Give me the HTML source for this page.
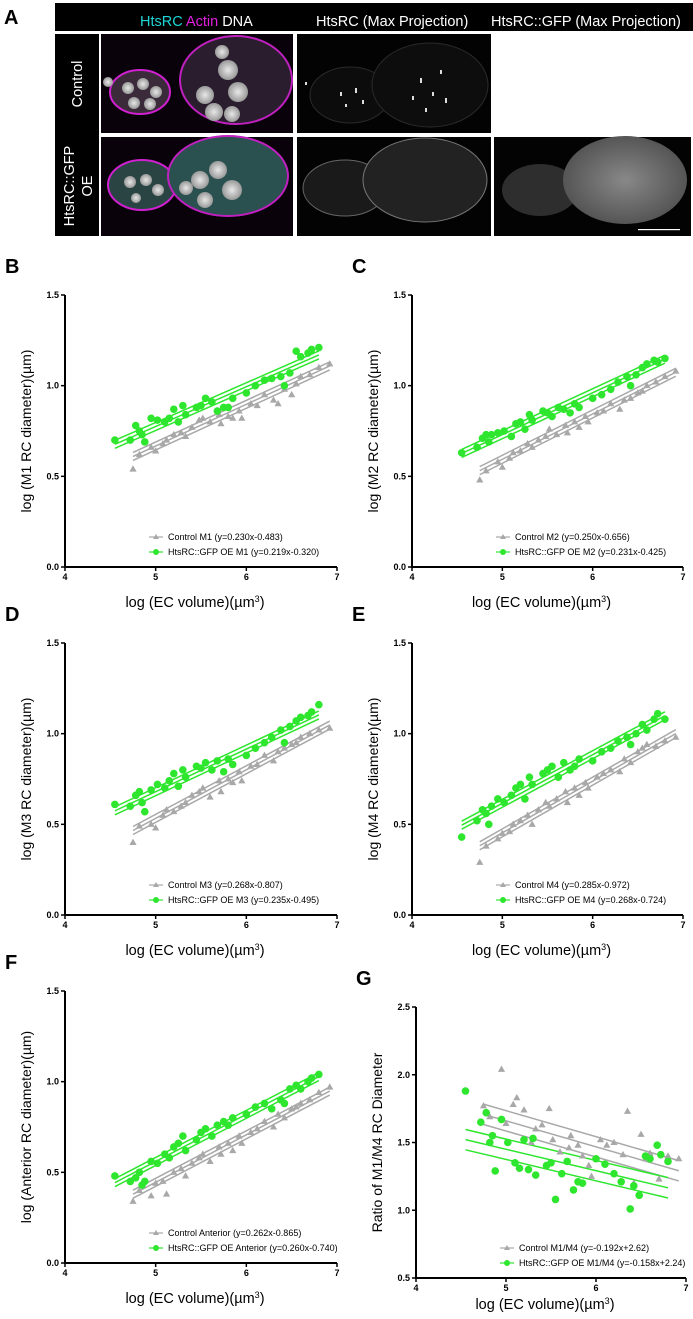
<!DOCTYPE html>
<html><head><meta charset="utf-8"><style>
body{margin:0;background:#fff;}
svg{display:block;font-family:"Liberation Sans",sans-serif;}
</style></head><body>
<svg id="fig" width="693" height="1319" viewBox="0 0 693 1319" xmlns="http://www.w3.org/2000/svg">
<defs>
<radialGradient id="nuc"><stop offset="0" stop-color="#e8e8e8"/><stop offset="1" stop-color="#999"/></radialGradient>
<radialGradient id="gfp"><stop offset="0" stop-color="#888"/><stop offset="1" stop-color="#555"/></radialGradient>
</defs>
<g>
<text x="4" y="24" font-size="20" font-weight="bold">A</text>
<rect x="55" y="3" width="638" height="28" fill="#000"/>
<text x="140" y="26" font-size="14.5"><tspan fill="#1fd6d6">HtsRC</tspan><tspan fill="#e020e0"> Actin</tspan><tspan fill="#fff"> DNA</tspan></text>
<text x="316" y="26" font-size="14.5" fill="#fff">HtsRC (Max Projection)</text>
<text x="491" y="26" font-size="14.5" fill="#fff">HtsRC::GFP (Max Projection)</text>
<rect x="55" y="34" width="44" height="202" fill="#000"/>
<text transform="translate(82,84) rotate(-90)" text-anchor="middle" font-size="14.5" fill="#fff">Control</text>
<text transform="translate(74,186) rotate(-90)" text-anchor="middle" font-size="14.5" fill="#fff">HtsRC::GFP</text>
<text transform="translate(92,186) rotate(-90)" text-anchor="middle" font-size="14.5" fill="#fff">OE</text>
<g>
<rect x="101" y="34" width="192" height="99" fill="#0a020a"/>
<ellipse cx="140" cy="92" rx="30" ry="22" fill="#3a2a3a" stroke="#d020d0" stroke-width="2"/>
<ellipse cx="236" cy="80" rx="56" ry="44" fill="#2a1e2e" stroke="#c020c0" stroke-width="2"/>
<circle cx="128" cy="88" r="6" fill="url(#nuc)"/><circle cx="143" cy="84" r="6" fill="url(#nuc)"/><circle cx="156" cy="92" r="6" fill="url(#nuc)"/><circle cx="134" cy="103" r="6" fill="url(#nuc)"/><circle cx="150" cy="104" r="6" fill="url(#nuc)"/>
<circle cx="205" cy="95" r="9" fill="url(#nuc)"/><circle cx="228" cy="70" r="10" fill="url(#nuc)"/><circle cx="238" cy="92" r="10" fill="url(#nuc)"/><circle cx="214" cy="112" r="9" fill="url(#nuc)"/><circle cx="232" cy="114" r="8" fill="url(#nuc)"/><circle cx="222" cy="52" r="7" fill="url(#nuc)"/>
<circle cx="108" cy="82" r="5" fill="url(#nuc)"/>
</g>
<g>
<rect x="297" y="34" width="194" height="99" fill="#030303"/>
<ellipse cx="350" cy="95" rx="40" ry="28" fill="#0c0c0c" stroke="#2a2a2a"/>
<ellipse cx="430" cy="85" rx="58" ry="42" fill="#0d0d0d" stroke="#2a2a2a"/>
<g fill="#ddd"><rect x="340" y="92" width="2" height="4"/><rect x="355" y="88" width="2" height="5"/><rect x="362" y="100" width="2" height="4"/><rect x="345" y="104" width="2" height="3"/><rect x="420" y="78" width="2" height="5"/><rect x="432" y="92" width="2" height="4"/><rect x="440" y="70" width="2" height="4"/><rect x="412" y="96" width="2" height="4"/><rect x="445" y="98" width="2" height="5"/><rect x="425" y="108" width="2" height="4"/><rect x="305" y="82" width="2" height="3"/></g>
</g>
<rect x="494" y="34" width="197" height="99" fill="#fff"/>
<g>
<rect x="101" y="137" width="192" height="99" fill="#0a020a"/>
<ellipse cx="142" cy="185" rx="34" ry="25" fill="#2a4444" stroke="#d020d0" stroke-width="2"/>
<ellipse cx="228" cy="176" rx="60" ry="40" fill="#2a5050" stroke="#c020c0" stroke-width="2"/>
<circle cx="130" cy="182" r="6" fill="url(#nuc)"/><circle cx="146" cy="180" r="6" fill="url(#nuc)"/><circle cx="158" cy="190" r="6" fill="url(#nuc)"/><circle cx="136" cy="198" r="5" fill="url(#nuc)"/>
<circle cx="200" cy="180" r="9" fill="url(#nuc)"/><circle cx="218" cy="170" r="9" fill="url(#nuc)"/><circle cx="232" cy="190" r="10" fill="url(#nuc)"/><circle cx="205" cy="200" r="8" fill="url(#nuc)"/><circle cx="186" cy="188" r="7" fill="url(#nuc)"/>
</g>
<g>
<rect x="297" y="137" width="194" height="99" fill="#030303"/>
<ellipse cx="345" cy="188" rx="42" ry="28" fill="#1a1a1a" stroke="#666"/>
<ellipse cx="425" cy="180" rx="62" ry="42" fill="#222" stroke="#777"/>
</g>
<g>
<rect x="494" y="137" width="197" height="99" fill="#030303"/>
<ellipse cx="540" cy="190" rx="38" ry="26" fill="#2e2e2e"/>
<ellipse cx="625" cy="180" rx="62" ry="44" fill="url(#gfp)"/>
<rect x="638" y="229" width="42" height="1.2" fill="#fff"/>
</g>
</g>
</svg>
<script>
// Shared x values (log EC volume)
const ctrlX=[4.75,4.82,4.95,5.0,5.08,5.12,5.2,5.28,5.33,5.4,5.48,5.52,5.6,5.7,5.72,5.8,5.85,5.92,5.95,6.05,6.12,6.2,6.3,6.35,6.42,6.5,6.55,6.6,6.7,6.8,6.92];
const oeX=[4.55,4.72,4.78,4.82,4.85,4.88,4.95,5.02,5.1,5.15,5.2,5.25,5.3,5.33,5.45,5.5,5.55,5.62,5.68,5.75,5.8,5.85,6.0,6.1,6.2,6.28,6.38,6.42,6.48,6.55,6.6,6.68,6.72,6.8];
const ctrlB=[0.54,0.62,0.66,0.64,0.68,0.70,0.73,0.74,0.72,0.77,0.81,0.82,0.80,0.84,0.79,0.83,0.82,0.86,0.82,0.90,0.89,0.95,0.92,0.90,0.98,0.95,1.01,1.05,1.06,1.10,1.12];
const oeB=[0.70,0.70,0.78,0.75,0.73,0.69,0.82,0.81,0.80,0.82,0.87,0.80,0.89,0.84,0.88,0.89,0.93,0.91,0.86,0.88,0.88,0.93,0.96,1.00,1.03,1.04,1.05,1.00,1.07,1.19,1.16,1.18,1.20,1.21];
const ctrlC=[0.48,0.53,0.58,0.55,0.60,0.63,0.64,0.68,0.66,0.70,0.72,0.76,0.73,0.78,0.74,0.80,0.77,0.83,0.80,0.85,0.86,0.90,0.87,0.92,0.93,0.96,0.97,1.00,1.02,1.05,1.08];
const oeC=[0.63,0.66,0.71,0.73,0.69,0.73,0.74,0.75,0.72,0.79,0.80,0.76,0.84,0.81,0.86,0.85,0.83,0.88,0.87,0.85,0.90,0.88,0.93,0.95,0.98,1.02,1.05,1.00,1.06,1.10,1.12,1.14,1.13,1.15];
const ctrlD=[0.40,0.49,0.50,0.48,0.55,0.58,0.57,0.60,0.62,0.66,0.68,0.70,0.65,0.74,0.68,0.75,0.73,0.79,0.74,0.82,0.83,0.88,0.85,0.90,0.92,0.94,0.95,0.98,1.00,1.02,1.03];
const oeD=[0.61,0.60,0.66,0.68,0.62,0.57,0.69,0.72,0.70,0.74,0.78,0.71,0.80,0.76,0.82,0.81,0.84,0.80,0.85,0.79,0.86,0.83,0.88,0.92,0.95,0.98,1.02,0.95,1.04,1.07,1.09,1.10,1.12,1.16];
const ctrlE=[0.29,0.38,0.42,0.45,0.46,0.50,0.52,0.55,0.50,0.58,0.62,0.60,0.64,0.68,0.62,0.70,0.66,0.73,0.70,0.76,0.78,0.80,0.79,0.86,0.84,0.90,0.92,0.94,0.93,0.96,0.98];
const oeE=[0.43,0.52,0.58,0.56,0.50,0.60,0.64,0.62,0.66,0.70,0.72,0.64,0.76,0.72,0.78,0.80,0.82,0.76,0.84,0.80,0.82,0.86,0.85,0.90,0.92,0.96,0.98,0.94,1.00,1.05,1.02,1.08,1.11,1.08];
const ctrlF=[0.34,0.40,0.37,0.44,0.45,0.38,0.50,0.52,0.48,0.55,0.58,0.60,0.56,0.64,0.60,0.66,0.62,0.70,0.66,0.72,0.74,0.78,0.75,0.82,0.80,0.85,0.86,0.88,0.90,0.94,0.97];
const oeF=[0.48,0.45,0.47,0.50,0.43,0.45,0.56,0.55,0.60,0.58,0.64,0.66,0.70,0.62,0.68,0.72,0.74,0.70,0.76,0.78,0.76,0.80,0.82,0.86,0.88,0.85,0.90,0.88,0.96,0.98,0.96,1.00,1.02,1.04];
const ctrlG=[1.77,1.69,2.04,1.64,1.78,1.83,1.74,1.50,1.60,1.63,1.75,1.52,1.43,1.46,1.55,1.48,1.40,1.33,1.25,1.52,1.48,1.50,1.41,1.73,1.20,1.56,1.38,1.42,1.23,1.40,1.38];
const oeG=[1.88,1.65,1.72,1.50,1.55,1.29,1.67,1.50,1.35,1.31,1.52,1.30,1.53,1.26,1.33,1.35,1.08,1.27,1.36,1.15,1.21,1.20,1.38,1.34,1.27,1.21,1.01,1.18,1.11,1.40,1.38,1.48,1.41,1.36];
const slopes=[[0.230,0.219],[0.250,0.231],[0.268,0.235],[0.285,0.268],[0.262,0.260],[-0.192,-0.158]];
const intercepts=[[-0.483,-0.320],[-0.656,-0.425],[-0.807,-0.495],[-0.972,-0.724],[-0.865,-0.740],[2.62,2.24]];
const xTicks=[4,5,6,7];
const yTicksA=[0.0,0.5,1.0,1.5];
const yTicksG=[0.5,1.0,1.5,2.0,2.5];

const NS='http://www.w3.org/2000/svg';
const svg=document.getElementById('fig');
function mk(tag,attrs,parent){const e=document.createElementNS(NS,tag);for(const k in attrs)e.setAttribute(k,attrs[k]);(parent||svg).appendChild(e);return e;}

const panels=[
 {L:'B',name:'m1',x0:65,x1:337,yT:295,yB:567,ctrl:ctrlB,oe:oeB,yt:'log (M1 RC diameter)(µm)',c:'Control M1',o:'HtsRC::GFP OE M1',yTicks:yTicksA,band:0.022,xo:40},
 {L:'C',name:'m2',x0:412,x1:683,yT:295,yB:567,ctrl:ctrlC,oe:oeC,yt:'log (M2 RC diameter)(µm)',c:'Control M2',o:'HtsRC::GFP OE M2',yTicks:yTicksA,band:0.022,xo:40},
 {L:'D',name:'m3',x0:65,x1:337,yT:643,yB:915,ctrl:ctrlD,oe:oeD,yt:'log (M3 RC diameter)(µm)',c:'Control M3',o:'HtsRC::GFP OE M3',yTicks:yTicksA,band:0.022,xo:40},
 {L:'E',name:'m4',x0:412,x1:683,yT:643,yB:915,ctrl:ctrlE,oe:oeE,yt:'log (M4 RC diameter)(µm)',c:'Control M4',o:'HtsRC::GFP OE M4',yTicks:yTicksA,band:0.022,xo:40},
 {L:'F',name:'anterior',x0:65,x1:337,yT:991,yB:1263,ctrl:ctrlF,oe:oeF,yt:'log (Anterior RC diameter)(µm)',c:'Control Anterior',o:'HtsRC::GFP OE Anterior',yTicks:yTicksA,band:0.022,xo:40},
 {L:'G',name:'ratio',x0:416,x1:686,yT:1007,yB:1278,ctrl:ctrlG,oe:oeG,yt:'Ratio of M1/M4 RC Diameter',c:'Control M1/M4',o:'HtsRC::GFP OE M1/M4',yTicks:yTicksG,band:0.075,xo:31}
];
const GRAY='#a8a8a8',GREEN='#2ee62e';
function fmt(v,d){return (v<0?'-':'')+Math.abs(v).toFixed(d);}
panels.forEach((p,i)=>{
 const g=mk('g',{});
 
 
 const yMin=p.yTicks[0],yMax=p.yTicks[p.yTicks.length-1];
 const sx=v=>p.x0+(v-4)/3*(p.x1-p.x0);
 const sy=v=>p.yB-(v-yMin)/(yMax-yMin)*(p.yB-p.yT);
 const lab=mk('text',{x:p.x0-60,y:p.yT-22,'font-size':20,'font-weight':'bold'},g);lab.textContent=p.L;
 
 
 const ax=mk('path',{d:`M${p.x0},${p.yT} V${p.yB} H${p.x1}`,stroke:'#000','stroke-width':2,fill:'none'},g);
 
 
 xTicks.forEach(t=>{
  mk('line',{x1:sx(t),x2:sx(t),y1:p.yB,y2:p.yB+4,stroke:'#000','stroke-width':1.5},g);
  const tx=mk('text',{x:sx(t),y:p.yB+13,'font-size':9,'font-weight':'bold','text-anchor':'middle'},g);tx.textContent=t;
  
  
 });
 p.yTicks.forEach(t=>{
  mk('line',{x1:p.x0-4,x2:p.x0,y1:sy(t),y2:sy(t),stroke:'#000','stroke-width':1.5},g);
  const ty=mk('text',{x:p.x0-6,y:sy(t)+3,'font-size':9,'font-weight':'bold','text-anchor':'end'},g);ty.textContent=t.toFixed(1);
  
  
 });
 const yc=(p.yT+p.yB)/2;
 const yt=mk('text',{transform:`translate(${p.x0-34},${yc}) rotate(-90)`,'font-size':14,'text-anchor':'middle'},g);yt.textContent=p.yt;
 
 
 const xt=mk('text',{x:(p.x0+p.x1)/2-6,y:p.yB+p.xo,'font-size':14.5,'text-anchor':'middle'},g);
 xt.innerHTML='log (EC volume)(µm<tspan dy="-5" font-size="9">3</tspan><tspan dy="5">)</tspan>';
 
 
 const series=[[ctrlX,p.ctrl,GRAY,0],[oeX,p.oe,GREEN,1]];
 series.forEach(([xs,ys,col,k])=>{
  const a=slopes[i][k],b=intercepts[i][k];
  const xa=Math.min(...xs),xb=Math.max(...xs);
  const xm=(xa+xb)/2;
  [-1,0,1].forEach(s=>{
   const f=x=>a*x+b+s*p.band*(0.6+0.8*Math.abs(x-xm)/(xb-xa));
   const ln=mk('line',{x1:sx(xa),y1:sy(f(xa)),x2:sx(xb),y2:sy(f(xb)),stroke:col,'stroke-width':1.5},g);
   
   
  });
 });
 series.forEach(([xs,ys,col,k])=>{
  xs.forEach((x,j)=>{
   const cx=sx(x),cy=sy(ys[j]);
   let m;
   if(k===0) m=mk('path',{d:`M${cx},${cy-3.8} L${cx+3.6},${cy+2.5} L${cx-3.6},${cy+2.5}Z`,fill:col},g);
   else m=mk('circle',{cx:cx,cy:cy,r:3.8,fill:col},g);
   
   
  });
 });
 const lx=p.x0+84, ly1=p.yB-30, ly2=p.yB-15;
 const leg=mk('g',{},g);
 
 
 mk('line',{x1:lx,x2:lx+14,y1:ly1,y2:ly1,stroke:GRAY,'stroke-width':1.2},leg);
 mk('path',{d:`M${lx+7},${ly1-3} L${lx+10},${ly1+2} L${lx+4},${ly1+2}Z`,fill:GRAY},leg);
 mk('line',{x1:lx,x2:lx+14,y1:ly2,y2:ly2,stroke:GREEN,'stroke-width':1.2},leg);
 mk('circle',{cx:lx+7,cy:ly2,r:3,fill:GREEN},leg);
 const dg=i===5?2:3;
 const t1=mk('text',{x:lx+19,y:ly1+3,'font-size':9},leg);
 t1.textContent=`${p.c} (y=${slopes[i][0].toFixed(3)}x${intercepts[i][0]<0?'':'+'}${fmt(intercepts[i][0],dg)})`;
 
 
 const t2=mk('text',{x:lx+19,y:ly2+3,'font-size':9},leg);
 t2.textContent=`${p.o} (y=${slopes[i][1].toFixed(3)}x${intercepts[i][1]<0?'':'+'}${fmt(intercepts[i][1],dg)})`;
 
 
});
</script>
</body></html>
